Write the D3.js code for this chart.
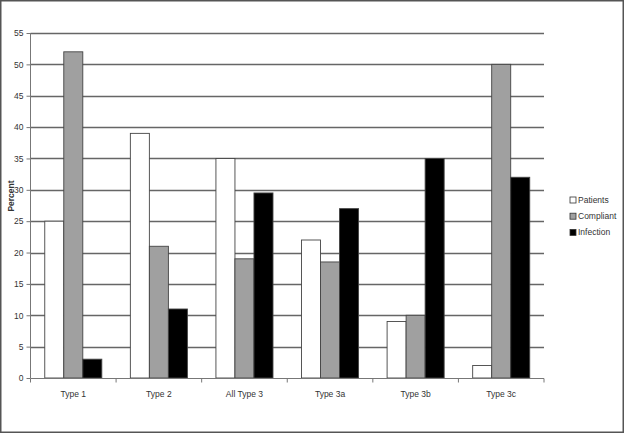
<!DOCTYPE html>
<html><head><meta charset="utf-8">
<script src="https://cdn.jsdelivr.net/npm/d3@7"></script>
<style>html,body{margin:0;padding:0;background:#fff;}svg{display:block;}</style>
</head><body>
<script>
const categories = ["Type 1", "Type 2", "All Type 3", "Type 3a", "Type 3b", "Type 3c"];
const seriesNames = ["Patients", "Compliant", "Infection"];
const patients = [25, 39, 35, 22, 9, 2];
const compliant = [52, 21, 19, 18.5, 10, 50];
const infection = [3, 11, 29.5, 27, 35, 32];
const yTicks = [0, 5, 10, 15, 20, 25, 30, 35, 40, 45, 50, 55];
const colors = ["#ffffff", "#a0a0a0", "#000000"];

const values = [patients, compliant, infection];
const W = 624, H = 433;
const svg = d3.select("body").append("svg").attr("width", W).attr("height", H);
svg.append("rect").attr("x", 0.75).attr("y", 0.75).attr("width", W - 1.5).attr("height", H - 1.5)
  .attr("fill", "#fff").attr("stroke", "#555").attr("stroke-width", 1.5);

const x0 = d3.scaleBand().domain(categories).range([30.5, 544]).paddingInner(1/3).paddingOuter(1/6);
const x1 = d3.scaleBand().domain(seriesNames).range([0, x0.bandwidth()]);
const y = d3.scaleLinear().domain([0, 55]).range([378, 33]);

const font = "Liberation Sans, Arial, sans-serif";

// gridlines
svg.append("g").selectAll("line").data(yTicks.filter(d => d > 0)).join("line")
  .attr("x1", 30.5).attr("x2", 544).attr("y1", d => Math.round(y(d)) + 0.5).attr("y2", d => Math.round(y(d)) + 0.5)
  .attr("stroke", "#666").attr("stroke-width", 1.3);

// bars
const g = svg.append("g");
categories.forEach((c, i) => {
  seriesNames.forEach((s, j) => {
    const v = values[j][i];
    g.append("rect")
      .attr("x", x0(c) + x1(s))
      .attr("y", y(v))
      .attr("width", x1.bandwidth())
      .attr("height", y(0) - y(v))
      .attr("fill", colors[j])
      .attr("stroke", "#444").attr("stroke-width", 0.9);
  });
});

// y axis
const yAxis = d3.axisLeft(y).tickValues(yTicks).tickSize(4).tickPadding(3);
const ya = svg.append("g").attr("transform", "translate(30.5,0)").call(yAxis);
ya.select(".domain").attr("stroke", "#777").attr("d", "M0," + y(55) + "V" + y(0));
ya.selectAll(".tick line").attr("stroke", "#777");
ya.selectAll("text").attr("font-family", font).attr("font-size", 8.5).attr("fill", "#333");

// x axis
const xa = svg.append("g").attr("transform", "translate(0,378.5)");
xa.append("line").attr("x1", 30.5).attr("x2", 544).attr("stroke", "#777");
const bounds = categories.map(c => x0(c) - x0.step() * x0.paddingInner() / 2).concat([544]);
xa.selectAll("line.t").data(bounds).join("line").attr("class", "t")
  .attr("x1", d => d).attr("x2", d => d).attr("y1", 0).attr("y2", 4).attr("stroke", "#777");
xa.selectAll("text").data(categories).join("text")
  .attr("x", d => x0(d) + x0.bandwidth() / 2).attr("y", 18)
  .attr("text-anchor", "middle").attr("font-family", font).attr("font-size", 8.5).attr("fill", "#333")
  .text(d => d);

// y title
svg.append("text").attr("transform", "translate(14,196) rotate(-90)")
  .attr("text-anchor", "middle").attr("font-family", font).attr("font-size", 8.5)
  .attr("font-weight", "bold").attr("fill", "#333").text("Percent");

// legend
const lg = svg.append("g");
seriesNames.forEach((s, j) => {
  const yy = 200 + j * 16.2;
  lg.append("rect").attr("x", 570).attr("y", yy - 3).attr("width", 6).attr("height", 6)
    .attr("fill", colors[j]).attr("stroke", "#333").attr("stroke-width", 0.8);
  lg.append("text").attr("x", 578).attr("y", yy + 3).attr("font-family", font).attr("font-size", 8.5)
    .attr("fill", "#333").text(s);
});
</script>
</body></html>
